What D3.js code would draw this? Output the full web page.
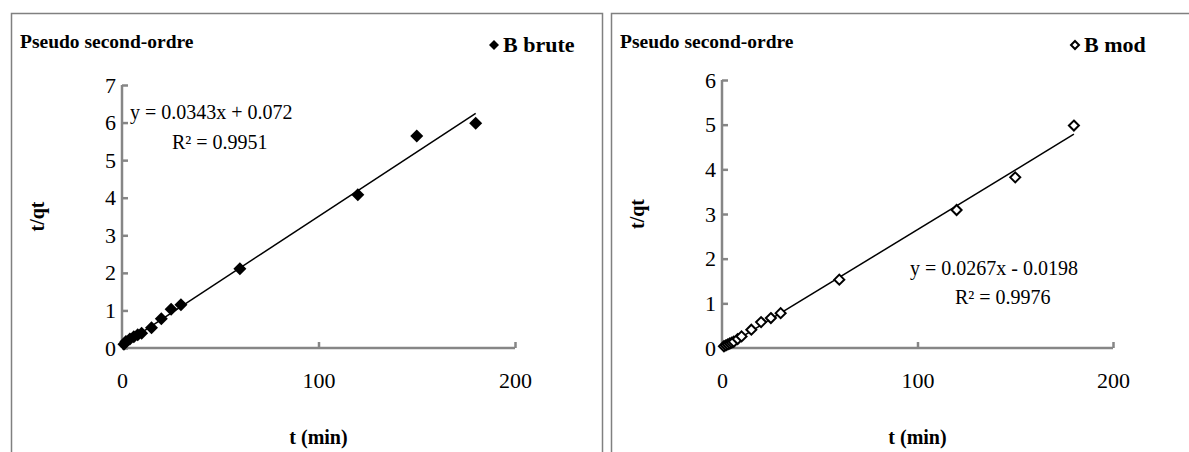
<!DOCTYPE html>
<html>
<head>
<meta charset="utf-8">
<script src="https://cdn.jsdelivr.net/npm/d3@7"></script>
<style>
  body { margin: 0; background: #fff; }
  svg text { font-family: "Liberation Serif", "Times New Roman", Times, serif; }
  .axis path, .axis line { stroke: #868686; stroke-width: 2.5px; }
  .axis text { font-size: 22px; fill: #000; }
  .bold { font-weight: bold; fill: #000; }
</style>
</head>
<body>
<div id="chart"></div>
<script>
// B brute data (t in min, t/qt)
var tBrute = [1, 2, 4, 6, 8, 10, 15, 20, 25, 30, 60, 120, 150, 180];
var qBrute = [0.1, 0.17, 0.24, 0.3, 0.35, 0.39, 0.54, 0.78, 1.03, 1.15, 2.11, 4.08, 5.64, 5.98];

// B mod data
var tMod = [1, 2, 3, 4, 5, 6, 8, 10, 15, 20, 25, 30, 60, 120, 150, 180];
var qMod = [0.04, 0.06, 0.08, 0.1, 0.12, 0.14, 0.2, 0.26, 0.41, 0.58, 0.67, 0.78, 1.53, 3.09, 3.82, 4.98];

// trendline coefficients as printed on the chart
var fitBrute = { slope: 0.0343, intercept: 0.072 };
var fitMod = { slope: 0.0267, intercept: -0.0198 };

var xTicks = [0, 100, 200];
var yTicksBrute = [0, 1, 2, 3, 4, 5, 6, 7];
var yTicksMod = [0, 1, 2, 3, 4, 5, 6];

var svgWidth = 1189;
var svgHeight = 452;

var svg = d3.select("#chart").append("svg")
  .attr("width", svgWidth)
  .attr("height", svgHeight);

var panels = [
  {
    frameX: 11, frameW: 591,
    x0: 122, x1: 515, y0: 348, yTop: 85,
    yMax: 7, yTicks: yTicksBrute,
    t: tBrute, q: qBrute, fit: fitBrute,
    legend: "B brute", legX: 494, filled: true,
    eq1: "y = 0.0343x + 0.072", eq1X: 130, eq1Y: 119,
    eq2: "R² = 0.9951", eq2X: 172, eq2Y: 149
  },
  {
    frameX: 611, frameW: 600,
    x0: 722, x1: 1113, y0: 348, yTop: 80,
    yMax: 6, yTicks: yTicksMod,
    t: tMod, q: qMod, fit: fitMod,
    legend: "B mod", legX: 1075, filled: false,
    eq1: "y = 0.0267x - 0.0198", eq1X: 910, eq1Y: 275,
    eq2: "R² = 0.9976", eq2X: 955, eq2Y: 304
  }
];

function diamond(r) {
  return "M0," + (-r) + "L" + r + ",0L0," + r + "L" + (-r) + ",0Z";
}

panels.forEach(function(p) {
  var g = svg.append("g");

  // chart area frame
  g.append("rect")
    .attr("x", p.frameX + 0.5)
    .attr("y", 13.5)
    .attr("width", p.frameW)
    .attr("height", 500)
    .attr("fill", "#fff")
    .attr("stroke", "#808080")
    .attr("stroke-width", 1.5);

  // title
  g.append("text")
    .classed("bold", true)
    .attr("x", p.frameX + 9)
    .attr("y", 48)
    .attr("font-size", "19.5px")
    .text("Pseudo second-ordre");

  // legend
  g.append("path")
    .attr("d", diamond(p.filled ? 5 : 4))
    .attr("transform", `translate(${p.legX}, 45)`)
    .attr("fill", p.filled ? "#000" : "#fff")
    .attr("stroke", "#000")
    .attr("stroke-width", p.filled ? 0 : 2);
  g.append("text")
    .classed("bold", true)
    .attr("x", p.legX + 9)
    .attr("y", 52)
    .attr("font-size", "22px")
    .text(p.legend);

  var xScale = d3.scaleLinear().domain([0, 200]).range([p.x0, p.x1]);
  var yScale = d3.scaleLinear().domain([0, p.yMax]).range([p.y0, p.yTop]);

  // x axis, ticks pointing inside (up)
  var xAxis = g.append("g")
    .classed("axis", true)
    .attr("transform", `translate(0, ${p.y0})`)
    .call(d3.axisBottom(xScale).tickValues(xTicks).tickFormat(d3.format("d"))
      .tickSizeInner(-6).tickSizeOuter(0).tickPadding(24));
  xAxis.select(".domain").attr("d", `M${p.x0},0H${p.x1}`);

  // y axis, ticks pointing inside (right)
  var yAxis = g.append("g")
    .classed("axis", true)
    .attr("transform", `translate(${p.x0}, 0)`)
    .call(d3.axisLeft(yScale).tickValues(p.yTicks).tickFormat(d3.format("d"))
      .tickSizeInner(-6).tickSizeOuter(0).tickPadding(6));
  yAxis.select(".domain").attr("d", `M0,${p.y0}V${p.yTop}`);

  // axis titles
  g.append("text")
    .classed("bold", true)
    .attr("x", (p.x0 + p.x1) / 2)
    .attr("y", 444)
    .attr("text-anchor", "middle")
    .attr("font-size", "20px")
    .text("t (min)");

  g.append("text")
    .classed("bold", true)
    .attr("transform", `translate(${p.frameX + 33}, ${(p.y0 + p.yTop) / 2}) rotate(-90)`)
    .attr("text-anchor", "middle")
    .attr("font-size", "20px")
    .text("t/qt");

  // trendline
  var tMin = d3.min(p.t), tMax = d3.max(p.t);
  g.append("line")
    .attr("x1", xScale(tMin))
    .attr("y1", yScale(p.fit.slope * tMin + p.fit.intercept))
    .attr("x2", xScale(tMax))
    .attr("y2", yScale(p.fit.slope * tMax + p.fit.intercept))
    .attr("stroke", "#000")
    .attr("stroke-width", 1.5);

  // points
  g.selectAll(".pt")
    .data(p.t)
    .enter()
    .append("path")
    .classed("pt", true)
    .attr("d", diamond(p.filled ? 6.5 : 5))
    .attr("transform", (d, i) => `translate(${xScale(d)}, ${yScale(p.q[i])})`)
    .attr("fill", p.filled ? "#000" : "#fff")
    .attr("stroke", "#000")
    .attr("stroke-width", p.filled ? 0 : 2);

  // equation labels
  g.append("text")
    .attr("x", p.eq1X)
    .attr("y", p.eq1Y)
    .attr("font-size", "20px")
    .text(p.eq1);
  g.append("text")
    .attr("x", p.eq2X)
    .attr("y", p.eq2Y)
    .attr("font-size", "20px")
    .text(p.eq2);
});
</script>
</body>
</html>
